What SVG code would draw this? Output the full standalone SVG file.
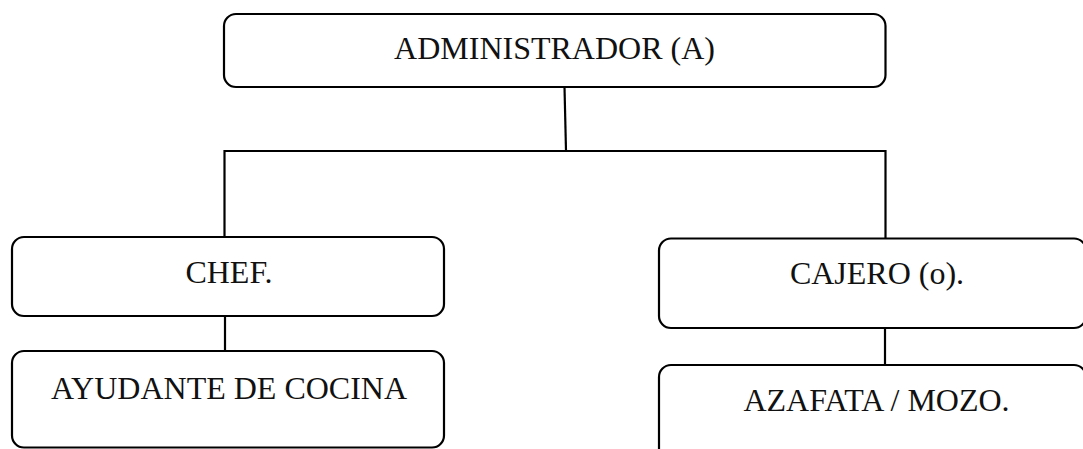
<svg xmlns="http://www.w3.org/2000/svg" width="1083" height="449" viewBox="0 0 1083 449">
<style>
.box{fill:#fff;stroke:#000;stroke-width:2.2}
.lbl{font-family:"Liberation Serif","Times New Roman",serif;font-size:32px;fill:#111;text-anchor:middle}
.con{stroke:#000;stroke-width:2.2;fill:none}
</style>
<rect width="1083" height="449" fill="#fff"/>
<g id="connectors">
<path class="con" d="M564.5,87 L566,151"/>
<path class="con" d="M224.5,236 L224.5,151 L885.5,151 L885.5,238"/>
<path class="con" d="M225,316 L225,350"/>
<path class="con" d="M885,328 L885,365"/>
</g>
<g id="n-admin">
<rect class="box" x="224" y="14" width="661.5" height="73" rx="12"/>
<text class="lbl" x="554.5" y="59">ADMINISTRADOR (A)</text>
</g>
<g id="n-chef">
<rect class="box" x="12" y="237" width="432" height="79" rx="12"/>
<text class="lbl" x="229" y="283">CHEF.</text>
</g>
<g id="n-ayudante">
<rect class="box" x="12" y="351" width="432" height="96.5" rx="12"/>
<text class="lbl" x="229" y="399">AYUDANTE DE COCINA</text>
</g>
<g id="n-cajero">
<rect class="box" x="659" y="238.5" width="427" height="89.5" rx="12"/>
<text class="lbl" x="877" y="284">CAJERO (o).</text>
</g>
<g id="n-azafata">
<rect class="box" x="659" y="365" width="427" height="100" rx="12"/>
<text class="lbl" x="876.5" y="411">AZAFATA / MOZO.</text>
</g>
</svg>
